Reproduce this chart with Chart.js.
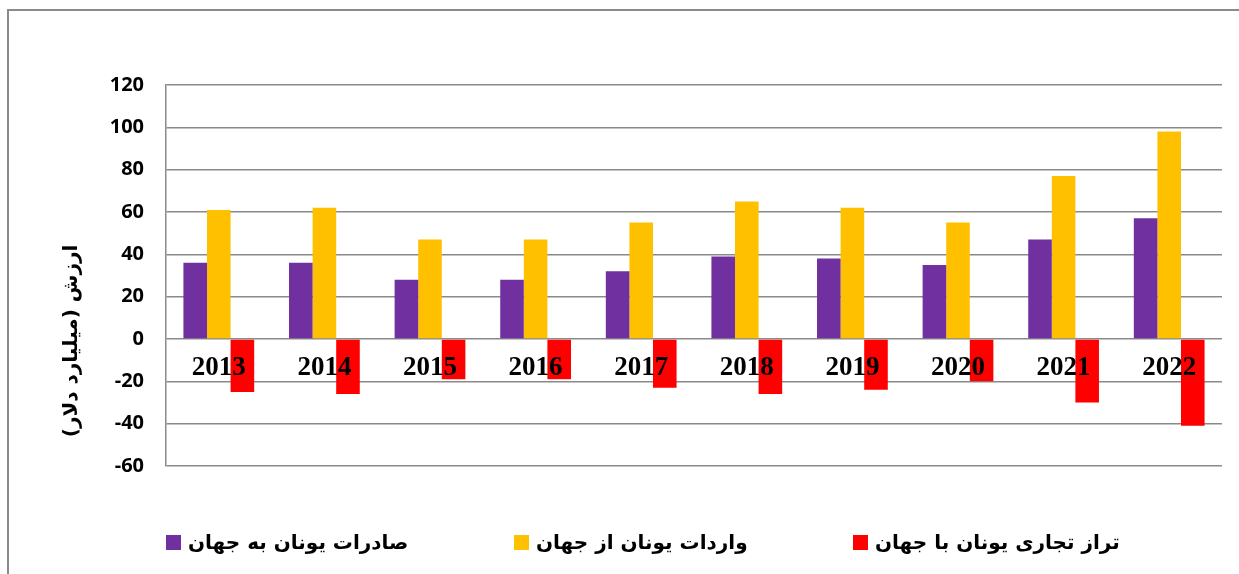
<!DOCTYPE html>
<html>
<head>
<meta charset="utf-8">
<script src="https://cdn.jsdelivr.net/npm/chart.js@4.4.1/dist/chart.umd.min.js"></script>
<style>
  body { margin: 0; background: #fff; }
  #wrap { position: relative; width: 1239px; height: 574px; overflow: hidden; }
  #frame { position: absolute; left: 7px; top: 9px; width: 1260px; height: 600px; border: 2px solid #8a8a8a; }
  #chart { position: absolute; left: 0; top: 0; }
  #legend { position: absolute; top: 530px; left: 0; width: 1239px; height: 24px; }
  .item { position: absolute; top: 0; display: flex; align-items: center; height: 24px; }
  .box { width: 15px; height: 15px; margin-right: 7px; }
  .txt { font: bold 20px "DejaVu Sans"; direction: rtl; color: #000; white-space: nowrap; }
</style>
</head>
<body>
<div id="wrap">
  <div id="frame"></div>
  <canvas id="chart" width="1239" height="574"></canvas>
  <div id="legend"></div>
</div>
<script>
const years = ['2013', '2014', '2015', '2016', '2017', '2018', '2019', '2020', '2021', '2022'];
const exportsToWorld = [36, 36, 28, 28, 32, 39, 38, 35, 47, 57];
const importsFromWorld = [61, 62, 47, 47, 55, 65, 62, 55, 77, 98];
const tradeBalance = [-25, -26, -19, -19, -23, -26, -24, -20, -30, -41];
const seriesNames = ['صادرات یونان به جهان', 'واردات یونان از جهان', 'تراز تجاری یونان با جهان'];
const yTicks = [-60, -40, -20, 0, 20, 40, 60, 80, 100, 120];
const yTitle = 'ارزش (میلیارد دلار)';

const purple = '#7030A0';
const gold = '#FFC000';
const red = '#FF0000';
const gridGray = '#8a8a8a';

// year labels sit just under the zero line, drawn over the bars
const yearLabels = {
  id: 'yearLabels',
  afterDatasetsDraw(chart) {
    const ctx = chart.ctx;
    const x = chart.scales.x, y = chart.scales.y;
    const y0 = y.getPixelForValue(0);
    ctx.save();
    ctx.font = 'bold 27px "Liberation Serif"';
    ctx.fillStyle = '#000';
    ctx.textAlign = 'center';
    ctx.textBaseline = 'middle';
    chart.data.labels.forEach(function(lab, i) {
      ctx.fillText(lab, x.getPixelForValue(i), y0 + 29);
    });
    ctx.restore();
  }
};

// rotated axis title, placed like the original (a bit below the middle)
const axisTitle = {
  id: 'axisTitle',
  afterDraw(chart) {
    const ctx = chart.ctx;
    ctx.save();
    ctx.translate(72, 341);
    ctx.rotate(-Math.PI / 2);
    ctx.font = 'bold 20px "DejaVu Sans"';
    ctx.fillStyle = '#000';
    ctx.textAlign = 'center';
    ctx.textBaseline = 'middle';
    ctx.direction = 'rtl';
    ctx.fillText(yTitle, 0, 0);
    ctx.restore();
  }
};

const chart = new Chart(document.getElementById('chart'), {
  type: 'bar',
  data: {
    labels: years,
    datasets: [
      { label: seriesNames[0], data: exportsToWorld, backgroundColor: purple, borderColor: purple },
      { label: seriesNames[1], data: importsFromWorld, backgroundColor: gold, borderColor: gold },
      { label: seriesNames[2], data: tradeBalance, backgroundColor: red, borderColor: red }
    ]
  },
  options: {
    responsive: false,
    animation: false,
    devicePixelRatio: 1,
    layout: { padding: { left: 0, top: 85, right: 17, bottom: 108 } },
    datasets: { bar: { categoryPercentage: 0.67, barPercentage: 1.0 } },
    plugins: {
      legend: { display: false },
      tooltip: { enabled: false }
    },
    scales: {
      x: {
        display: false
      },
      y: {
        min: -60,
        max: 120,
        afterFit: function(scale) { scale.width = 166; },
        afterBuildTicks: function(scale) {
          scale.ticks = yTicks.map(function(v) { return { value: v }; });
        },
        grid: { color: gridGray, lineWidth: 1.5, drawTicks: false },
        border: { color: gridGray, width: 1.5 },
        ticks: {
          padding: 22,
          color: '#000',
          font: { family: 'Open Sans', weight: 'bold', size: 20 }
        }
      }
    }
  },
  plugins: [yearLabels, axisTitle]
});

// legend built from the chart's datasets, in evenly spread slots like the original
const slotLeft = [166, 514, 853];
const legend = document.getElementById('legend');
chart.data.datasets.forEach(function(ds, i) {
  const item = document.createElement('div');
  item.className = 'item';
  item.style.left = slotLeft[i] + 'px';
  const box = document.createElement('span');
  box.className = 'box';
  box.style.background = ds.backgroundColor;
  const txt = document.createElement('span');
  txt.className = 'txt';
  txt.textContent = ds.label;
  item.appendChild(box);
  item.appendChild(txt);
  legend.appendChild(item);
});
</script>
</body>
</html>
